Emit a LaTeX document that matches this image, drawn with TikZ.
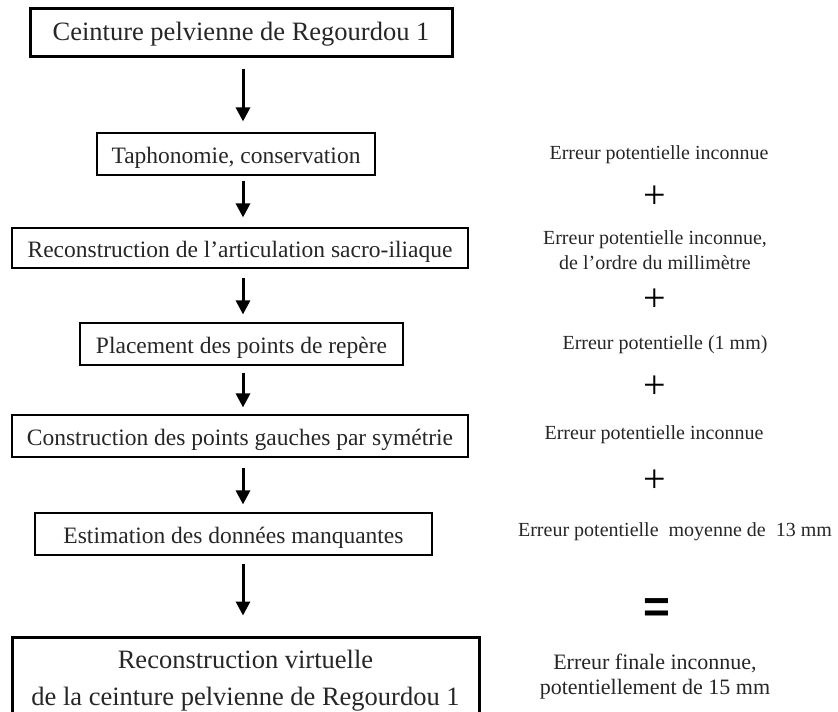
\documentclass[tikz,border=0pt]{standalone}
\usepackage{fontspec}
\setmainfont{Liberation Serif}
\newfontfamily\eqfont{Liberation Sans}
\usetikzlibrary{arrows.meta}
\begin{document}
\begin{tikzpicture}[x=1pt,y=-1pt,
  box/.style={draw, line width=1.2pt, inner sep=0pt, align=center, text height=20pt, text depth=2pt, font=\fontsize{23.5}{26}\selectfont, text=black!85},
  thickbox/.style={box, line width=3pt},
  arr/.style={line width=3pt, -{Triangle[width=14pt,length=14pt]}},
  note/.style={font=\fontsize{20}{25}\selectfont, align=center, text=black!85},
  opsign/.style={font=\fontsize{40}{40}\selectfont},
  eqsign/.style={font=\eqfont\bfseries\fontsize{46}{46}\selectfont}]
\clip (0,0) rectangle (838,712);
\coordinate (ax) at (243,0);
\node[thickbox, minimum width=422pt, minimum height=48pt, text height=18pt, font=\fontsize{26.5}{28}\selectfont] (b1) at (241,32) {Ceinture pelvienne de Regourdou 1};
\node[box, minimum width=278pt, minimum height=42pt] (b2) at (236,154) {Taphonomie, conservation};
\node[box, minimum width=456pt, minimum height=40pt] (b3) at (240,248) {Reconstruction de l’articulation sacro-iliaque};
\node[box, minimum width=323pt, minimum height=42pt] (b4) at (241.5,344) {Placement des points de repère};
\node[box, minimum width=456pt, minimum height=42pt] (b5) at (240,436) {Construction des points gauches par symétrie};
\node[box, minimum width=397pt, minimum height=42pt] (b6) at (233.5,534) {Estimation des données manquantes};
\node[thickbox, minimum width=467pt, minimum height=88pt, text height=, text depth=, font=\fontsize{26.5}{37}\selectfont] (b7) at (245.5,681) {Reconstruction virtuelle\\de la ceinture pelvienne de Regourdou 1};

\draw[arr, shorten <=11pt, shorten >=11pt] (b1.south -| ax) -- (b2.north -| ax);
\draw[arr, shorten <=5pt, shorten >=10pt] (b2.south -| ax) -- (b3.north -| ax);
\draw[arr, shorten <=9pt, shorten >=8pt] (b3.south -| ax) -- (b4.north -| ax);
\draw[arr, shorten <=7pt, shorten >=7pt] (b4.south -| ax) -- (b5.north -| ax);
\draw[arr, shorten <=10pt, shorten >=8pt] (b5.south -| ax) -- (b6.north -| ax);
\draw[arr, shorten <=8pt, shorten >=20pt] (b6.south -| ax) -- (b7.north -| ax);

\node[note] (r1) at (659,155) {Erreur potentielle inconnue};
\node[opsign] (p1) at (655,197) {+};
\node[note] (r2) at (655,250.5) {Erreur potentielle inconnue,\\de l’ordre du millimètre};
\node[opsign] (p2) at (655,300) {+};
\node[note] (r3) at (665,345) {Erreur potentielle (1 mm)};
\node[opsign] (p3) at (655,387) {+};
\node[note] (r4) at (654,435) {Erreur potentielle inconnue};
\node[opsign] (p4) at (655,481) {+};
\node[note] (r5) at (675,532) {Erreur potentielle\ \ moyenne de\ \ 13 mm};
\node[eqsign] (eq) at (657,611) {=};
\node[note, font=\fontsize{22}{25}\selectfont] (r6) at (655,677) {Erreur finale inconnue,\\potentiellement de 15 mm};
\end{tikzpicture}
\end{document}
